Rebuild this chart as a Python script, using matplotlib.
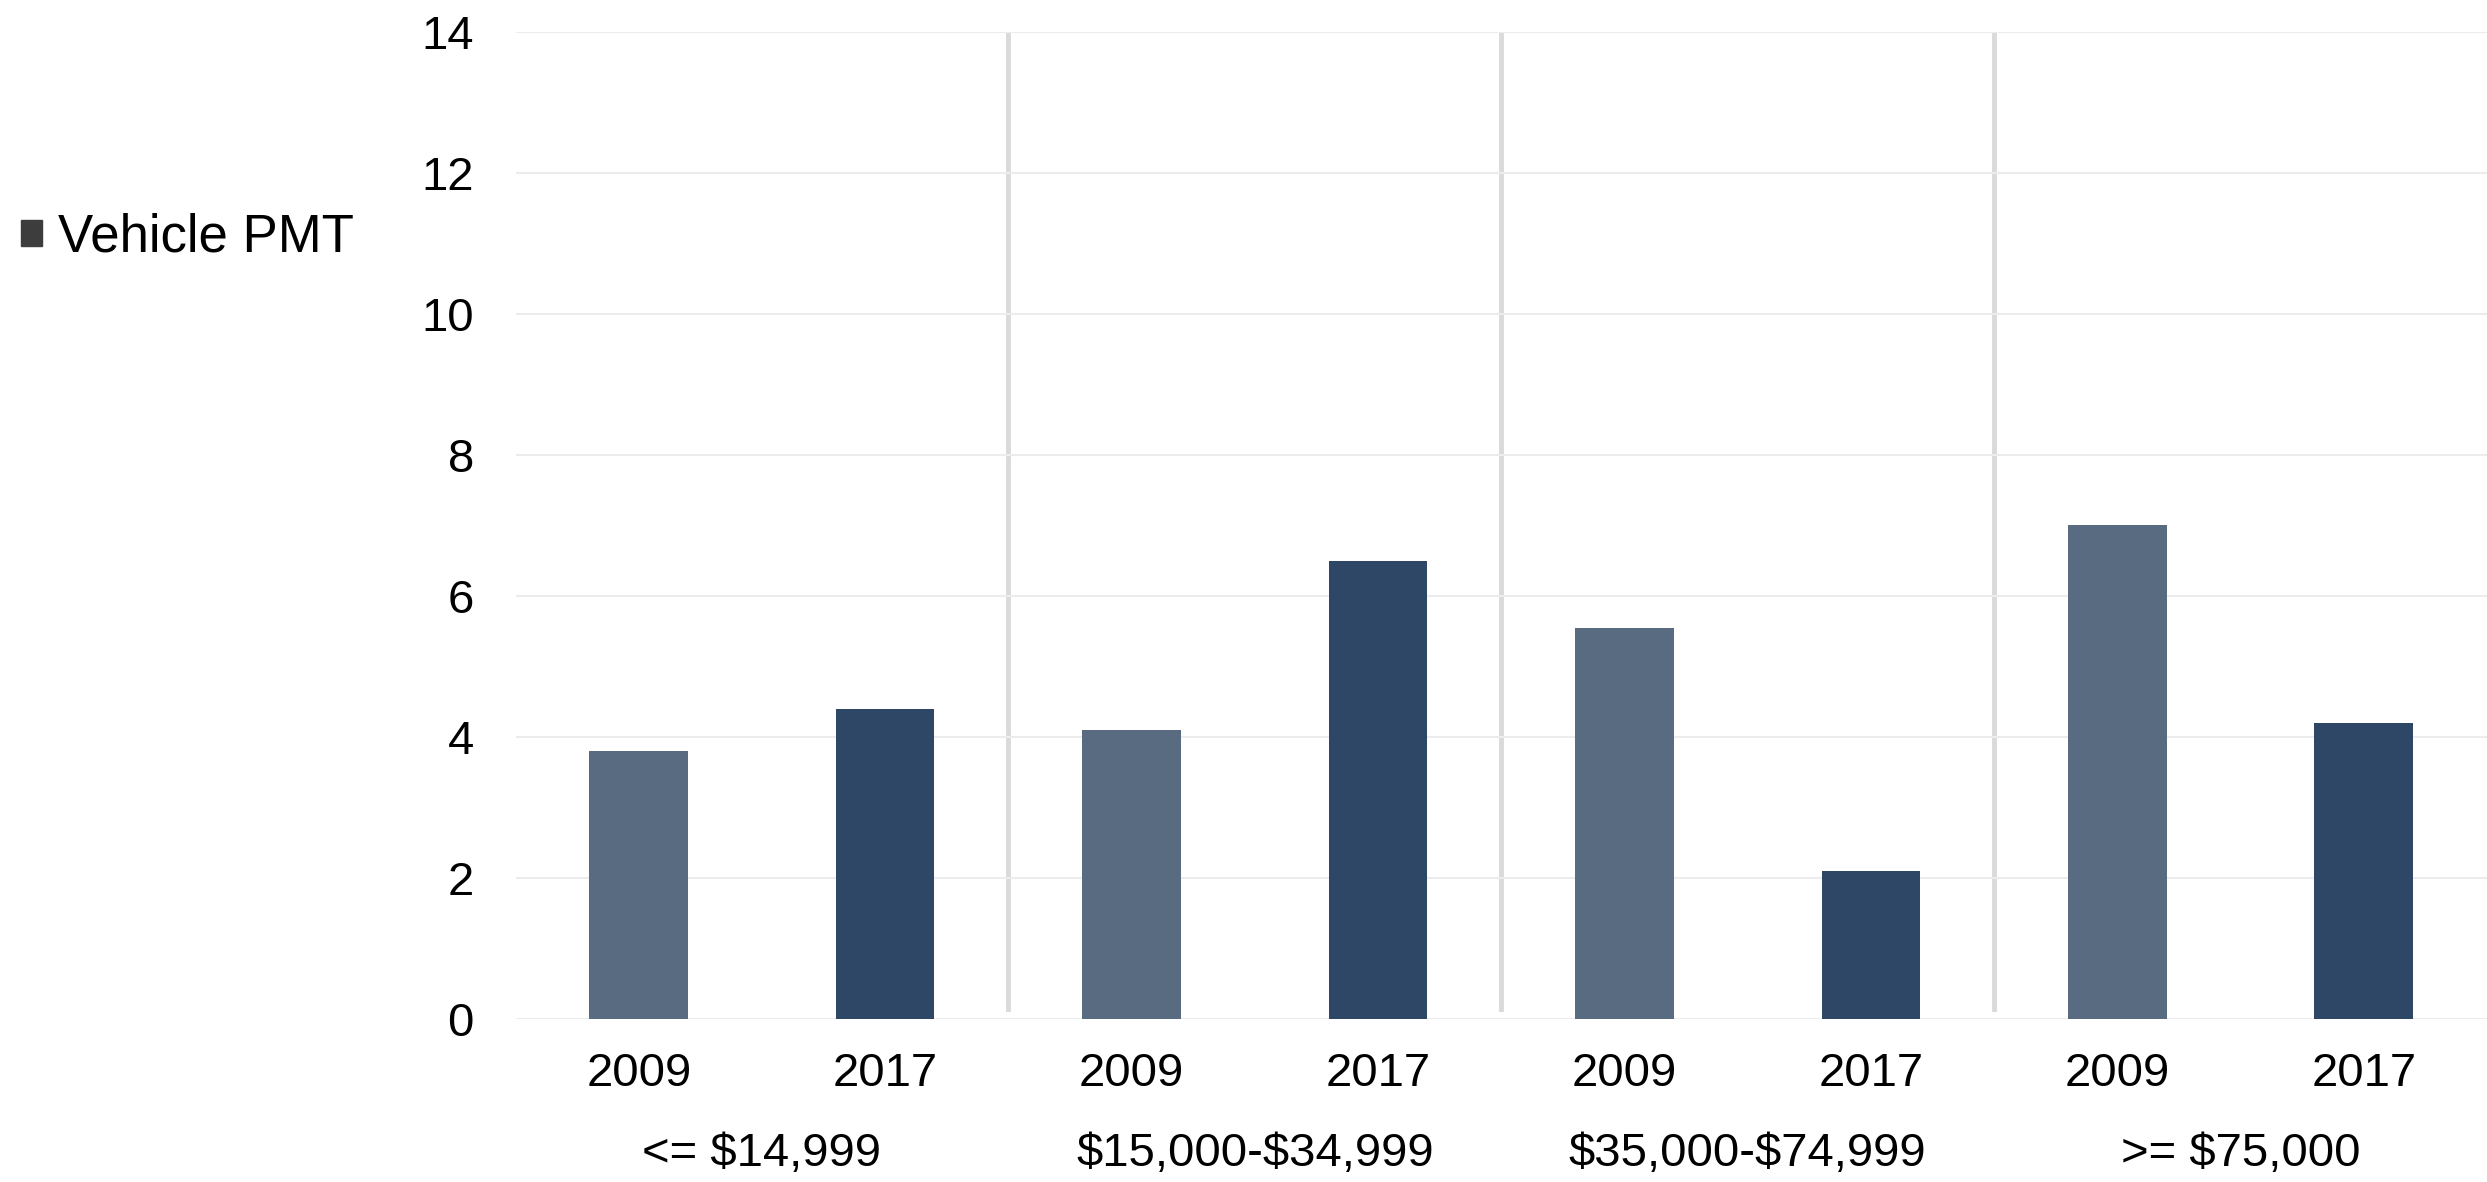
import matplotlib
matplotlib.use("Agg")
import matplotlib.pyplot as plt
import matplotlib.transforms as mtransforms
from matplotlib.patches import Patch
import numpy as np

plt.rcParams['font.family'] = ['Liberation Sans', 'DejaVu Sans']

# Vehicle PMT by household income, 2009 vs 2017
income_groups = ["<= $14,999", "$15,000-$34,999", "$35,000-$74,999", ">= $75,000"]
years = ["2009", "2017"]
pmt_2009 = [3.8, 4.1, 5.55, 7.0]
pmt_2017 = [4.4, 6.5, 2.1, 4.2]

color_2009 = "#586b80"
color_2017 = "#2e4766"

fig = plt.figure(figsize=(24.87, 11.82), dpi=100)
ax = fig.add_axes([0.2073, 0.138, 0.7927, 0.835])

n = len(income_groups)
x = np.arange(n * 2)
values = []
colors = []
for a, b in zip(pmt_2009, pmt_2017):
    values += [a, b]
    colors += [color_2009, color_2017]

ax.bar(x, values, width=0.4, color=colors, zorder=3)

ax.set_xlim(-0.5, n * 2 - 0.5)
ax.set_ylim(0, 14)
ax.set_yticks(range(0, 15, 2))
ax.set_xticks(x)
ax.set_xticklabels(years * n)

ax.grid(axis='y', color='#ececec', linewidth=1.5, zorder=0)
ax.tick_params(axis='y', length=0, labelsize=34, pad=30)
ax.tick_params(axis='x', length=0, labelsize=34, pad=24)
for s in ax.spines.values():
    s.set_visible(False)

# separators between income groups
for i in range(1, n):
    ax.axvline(i * 2 - 0.5, ymin=0.01, ymax=1.0, color='#dadada', linewidth=3.5, zorder=1)

# income group labels under the year labels
trans = mtransforms.blended_transform_factory(ax.transData, ax.transAxes)
for i, g in enumerate(income_groups):
    ax.text(i * 2 + 0.5, -0.137, g, transform=trans, ha='center', va='center',
            fontsize=34, parse_math=False)

fig.legend(handles=[Patch(color='#3d3d3d', label='Vehicle PMT')],
           loc='center left', bbox_to_anchor=(0.0085, 0.7987),
           frameon=False, fontsize=38, borderpad=0, borderaxespad=0,
           handlelength=0.4, handleheight=0.4, handletextpad=0.3)

fig.savefig("out.png", dpi=100)
